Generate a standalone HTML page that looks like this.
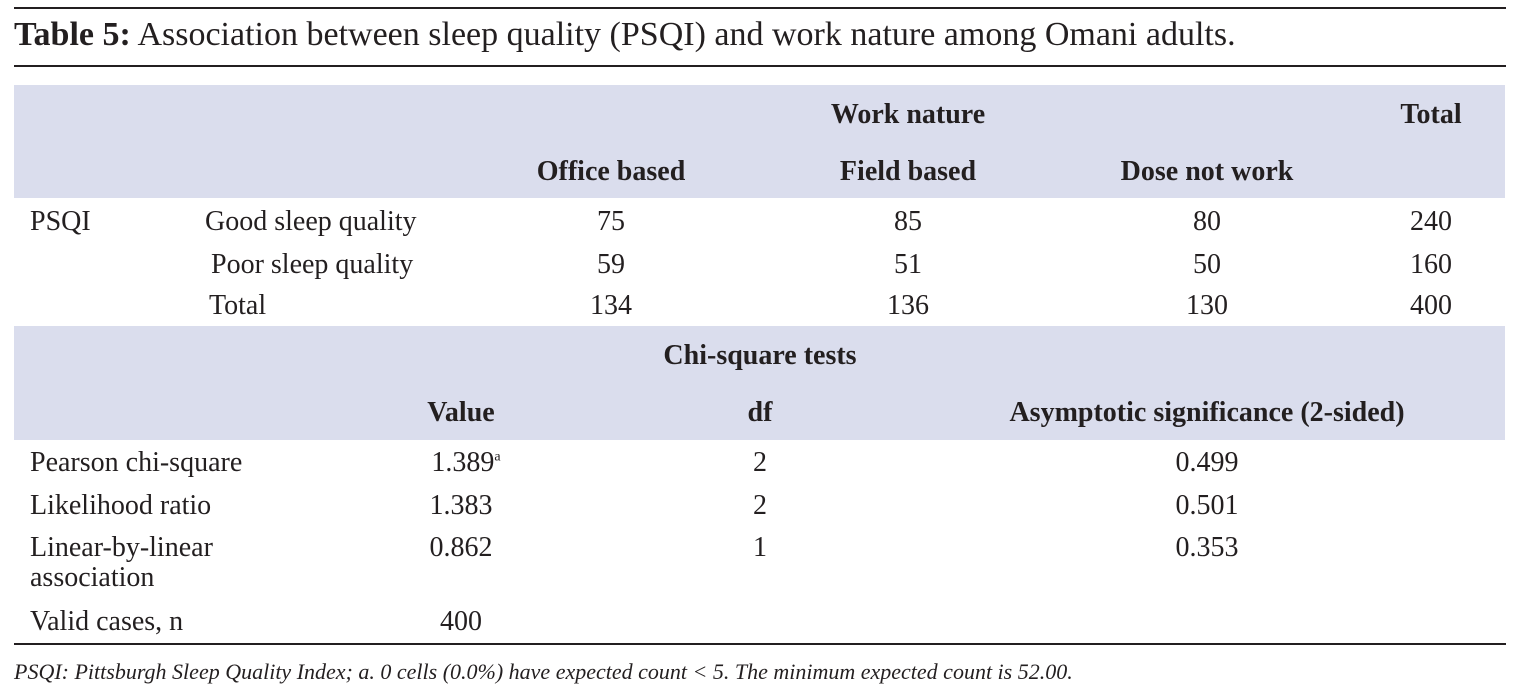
<!DOCTYPE html>
<html><head><meta charset="utf-8"><style>
body{margin:0;width:1518px;height:700px;background:#fff;position:relative;overflow:hidden;font-family:"Liberation Serif",serif;color:#231f20;font-size:28px}
.l{position:absolute;left:14px;width:1492px;height:2px;background:#231f20}
.bx{position:absolute;left:14px;width:1491px;background:#dadded}
.t{position:absolute;white-space:nowrap;line-height:1}
.c{transform:translateX(-50%)}
b{font-weight:bold}
</style></head><body>
<div class="l" style="top:7px"></div>
<div class="t" style="left:14px;top:18px;font-size:34px"><b>Table 5:</b> Association between sleep quality (PSQI) and work nature among Omani adults.</div>
<div class="l" style="top:65px;height:1.5px"></div>
<div class="bx" style="top:85px;height:113px"></div>
<div class="bx" style="top:326px;height:114px"></div>
<div class="l" style="top:643px;height:1.5px"></div>

<div class="t c" style="left:908px;top:101px"><b>Work nature</b></div>
<div class="t c" style="left:1431px;top:101px"><b>Total</b></div>
<div class="t c" style="left:611px;top:158px"><b>Office based</b></div>
<div class="t c" style="left:908px;top:158px"><b>Field based</b></div>
<div class="t c" style="left:1207px;top:158px"><b>Dose not work</b></div>

<div class="t" style="left:30px;top:208px">PSQI</div>
<div class="t" style="left:205px;top:208px">Good sleep quality</div>
<div class="t" style="left:211px;top:251px">Poor sleep quality</div>
<div class="t" style="left:209px;top:292px">Total</div>
<div class="t c" style="left:611px;top:208px">75</div><div class="t c" style="left:908px;top:208px">85</div><div class="t c" style="left:1207px;top:208px">80</div><div class="t c" style="left:1431px;top:208px">240</div>
<div class="t c" style="left:611px;top:251px">59</div><div class="t c" style="left:908px;top:251px">51</div><div class="t c" style="left:1207px;top:251px">50</div><div class="t c" style="left:1431px;top:251px">160</div>
<div class="t c" style="left:611px;top:292px">134</div><div class="t c" style="left:908px;top:292px">136</div><div class="t c" style="left:1207px;top:292px">130</div><div class="t c" style="left:1431px;top:292px">400</div>

<div class="t c" style="left:760px;top:342px"><b>Chi-square tests</b></div>
<div class="t c" style="left:461px;top:399px"><b>Value</b></div>
<div class="t c" style="left:760px;top:399px"><b>df</b></div>
<div class="t c" style="left:1207px;top:399px"><b>Asymptotic significance (2-sided)</b></div>

<div class="t" style="left:30px;top:449px">Pearson chi-square</div>
<div class="t" style="left:30px;top:492px">Likelihood ratio</div>
<div class="t" style="left:30px;top:534px">Linear-by-linear</div>
<div class="t" style="left:30px;top:564px">association</div>
<div class="t" style="left:30px;top:608px">Valid cases, n</div>
<div class="t c" style="left:466px;top:449px">1.389<sup style="font-size:14px">a</sup></div>
<div class="t c" style="left:461px;top:492px">1.383</div>
<div class="t c" style="left:461px;top:534px">0.862</div>
<div class="t c" style="left:461px;top:608px">400</div>
<div class="t c" style="left:760px;top:449px">2</div><div class="t c" style="left:760px;top:492px">2</div><div class="t c" style="left:760px;top:534px">1</div>
<div class="t c" style="left:1207px;top:449px">0.499</div><div class="t c" style="left:1207px;top:492px">0.501</div><div class="t c" style="left:1207px;top:534px">0.353</div>

<div class="t" style="left:14px;top:661px;font-size:22px;font-style:italic">PSQI: Pittsburgh Sleep Quality Index; a. 0 cells (0.0%) have expected count &lt; 5. The minimum expected count is 52.00.</div>
</body></html>
